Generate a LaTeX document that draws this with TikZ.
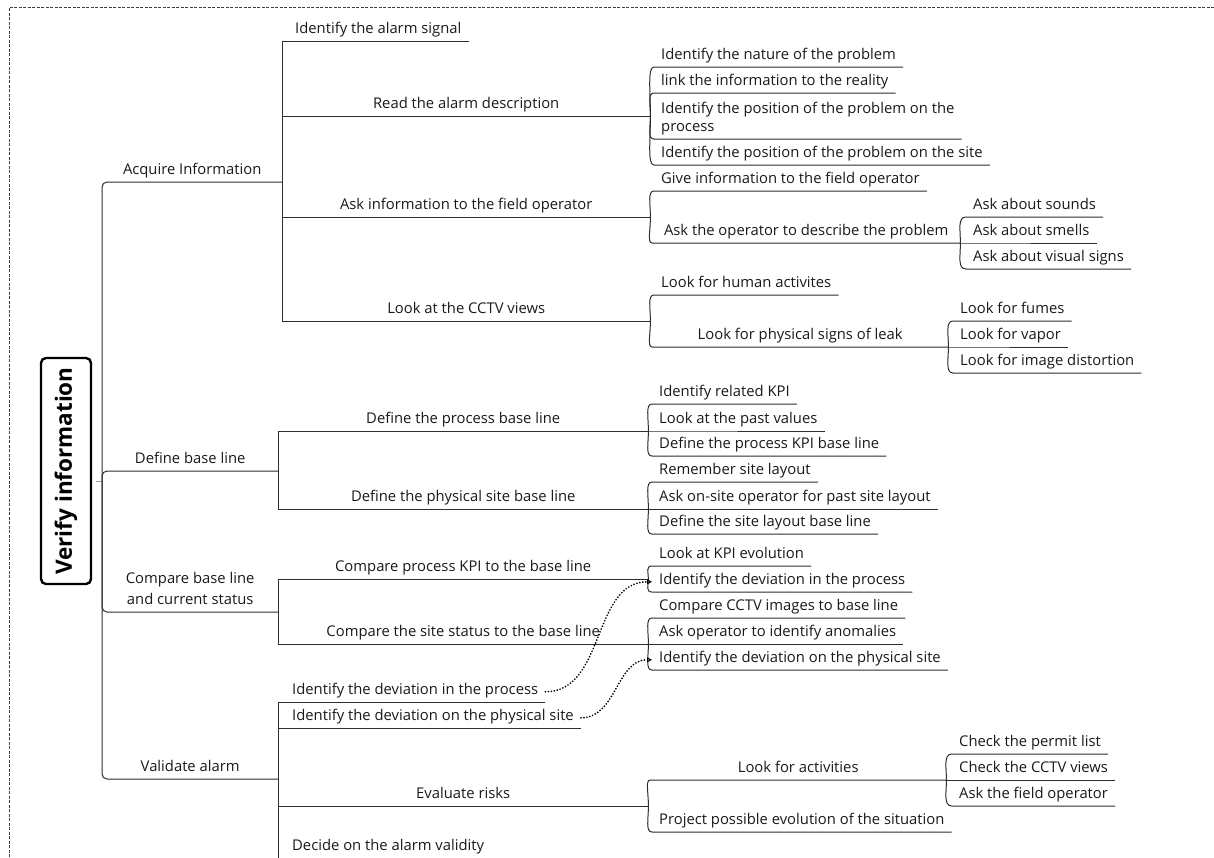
\documentclass[tikz,border=0pt]{standalone}
\usepackage{fontspec}
\setmainfont{Open Sans}
\usepackage{tikz}
\usetikzlibrary{calc,arrows.meta}
\definecolor{branchc}{RGB}{45,45,45}
\definecolor{framec}{RGB}{60,60,60}
\definecolor{hubc}{RGB}{125,165,215}
\tikzset{
  mtopic/.style={anchor=south west,inner xsep=7pt,inner ysep=3pt,text height=10pt,
    text depth=4pt,text=black!90,font=\fontsize{14.8}{18}\selectfont},
  mbranch/.style={branchc,line width=1pt},
  mroot/.style={draw,line width=2.4pt,rounded corners=5pt,rotate=90,inner sep=0pt,
    minimum width=226pt,minimum height=50pt,font=\fontsize{22.5}{26}\selectfont\bfseries},
  mframe/.style={framec,line width=0.7pt,dash pattern=on 3pt off 1.5pt},
  mlink/.style={black,line width=1.9pt,line cap=round,dash pattern=on 0pt off 3pt,
    -{Triangle[open,length=5pt,width=5pt,line width=1pt]}},
  mbrace/.style={to path={.. controls ($(\tikztostart)!0.5!(\tikztostart|-\tikztotarget)$)
    and ($(\tikztostart|-\tikztotarget)+(-3,0)$) .. (\tikztotarget)}},
}

\begin{document}
\begin{tikzpicture}[x=1pt,y=1pt]
  \useasboundingbox (0,0) rectangle (1214,-857);
  \draw[mframe] (9,-857) -- (9,-7) -- (1214,-7);
  \node[mroot] (root) at (66,-471) {Verify information};
  \coordinate (hub) at (102,-481);
  \draw[hubc,line width=1pt] ($(root.south|-hub)+(4,0)$) -- (hub);
  \foreach \n/\y/\w/\t in {acq/182/180/{Acquire Information},dbl/471/176/{Define base line},
      cmp/612/176/{\begin{tabular}[b]{@{}c@{}}Compare base line\\[3pt]and current status\end{tabular}},
      val/779/176/{Validate alarm}} {
    \node[mtopic,minimum width=\w] (\n) at (102,-\y) {\t};
    \draw[mbranch,rounded corners=5pt] (hub) |- (\n.south east);}
  \foreach \p/\n/\x/\y/\w/\t in {acq/sig/288/41/0/{Identify the alarm signal},
      acq/read/282/116/368/{Read the alarm description},
      acq/askf/282/217/368/{Ask information to the field operator},
      acq/cctv/282/321/368/{Look at the CCTV views},
      dbl/dpro/278/431/370/{Define the process base line},
      dbl/dphy/278/509/370/{Define the physical site base line},
      cmp/ckpi/278/579/370/{Compare process KPI to the base line},
      cmp/csite/278/644/370/{Compare the site status to the base line},
      val/vdp/285/702/0/{Identify the deviation in the process},
      val/vds/285/728/0/{Identify the deviation on the physical site},
      val/risk/278/806/370/{Evaluate risks},
      val/decide/285/858/0/{Decide on the alarm validity}} {
    \node[mtopic,minimum width=\w] (\n) at (\x,-\y) {\t};
    \draw[mbranch] (\p.south east) |- (\n.south east);}
  \foreach \p/\n/\x/\y/\w/\t in {read/nat/654/67/0/{Identify the nature of the problem},
      read/lnk/654/93/0/{link the information to the reality},
      read/pos/654/139/0/{\begin{tabular}[b]{@{}l@{}}Identify the position of the problem on the\\process\end{tabular}},
      read/site/654/165/0/{Identify the position of the problem on the site},
      askf/give/654/191/0/{Give information to the field operator},
      askf/askop/652/243/308/{Ask the operator to describe the problem},
      askop/snd/966/217/0/{Ask about sounds},askop/sml/966/243/0/{Ask about smells},
      askop/vis/966/269/0/{Ask about visual signs},
      cctv/hum/654/295/0/{Look for human activites},
      cctv/leak/652/347/296/{Look for physical signs of leak},
      leak/fum/953/321/0/{Look for fumes},leak/vap/953/347/0/{Look for vapor},
      leak/dist/953/373/0/{Look for image distortion},
      dpro/kpi/652/404/0/{Identify related KPI},dpro/past/652/431/0/{Look at the past values},
      dpro/dkpi/652/456/0/{Define the process KPI base line},
      dphy/rem/652/482/0/{Remember site layout},
      dphy/askon/652/509/0/{Ask on-site operator for past site layout},
      dphy/dlay/652/534/0/{Define the site layout base line},
      ckpi/evo/652/566/0/{Look at KPI evolution},
      ckpi/devp/652/592/0/{Identify the deviation in the process},
      csite/cimg/652/618/0/{Compare CCTV images to base line},
      csite/anom/652/644/0/{Ask operator to identify anomalies},
      csite/devs/652/670/0/{Identify the deviation on the physical site},
      risk/act/650/780/296/{Look for activities},
      risk/proj/652/832/0/{Project possible evolution of the situation},
      act/perm/952/754/0/{Check the permit list},act/cctvv/952/780/0/{Check the CCTV views},
      act/askfo/952/806/0/{Ask the field operator}} {
    \node[mtopic,minimum width=\w] (\n) at (\x,-\y) {\t};
    \draw[mbranch] (\p.south east) to[mbrace] (\n.south west) -- (\n.south east);}
  \draw[mlink] (vdp.east) to[out=0,in=180] (devp.west);
  \draw[mlink] (vds.east) to[out=0,in=180] (devs.west);
\end{tikzpicture}
\end{document}
